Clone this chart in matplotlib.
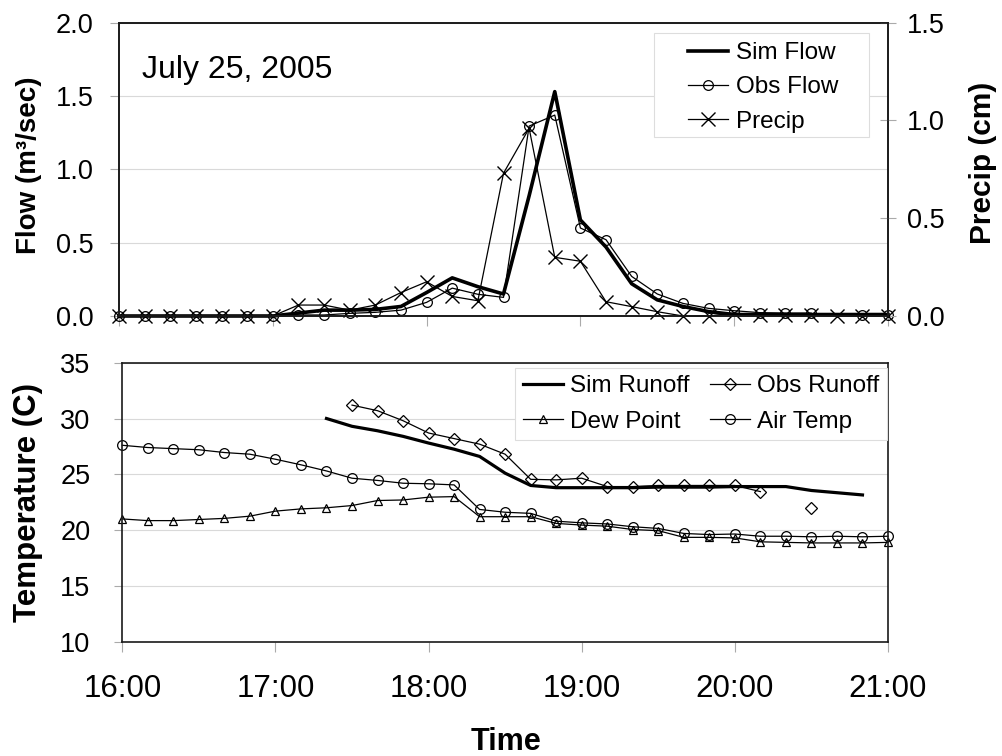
import matplotlib.pyplot as plt
import matplotlib.ticker as mticker
from matplotlib.patches import Rectangle
import numpy as np

plt.rcParams["font.family"] = ["Liberation Sans", "DejaVu Sans"]

# 10-minute readings, July 25, 2005
times = ["16:00", "16:10", "16:20", "16:30", "16:40", "16:50",
         "17:00", "17:10", "17:20", "17:30", "17:40", "17:50",
         "18:00", "18:10", "18:20", "18:30", "18:40", "18:50",
         "19:00", "19:10", "19:20", "19:30", "19:40", "19:50",
         "20:00", "20:10", "20:20", "20:30", "20:40", "20:50", "21:00"]
hour_ticks = ["16:00", "17:00", "18:00", "19:00", "20:00", "21:00"]

# top panel: flow (m3/sec) and precip (cm)
sim_flow = [0, 0, 0, 0, 0, 0, 0, 0.02, 0.04, 0.04, 0.045, 0.065, 0.16, 0.26, 0.2, 0.15,
            0.82, 1.53, 0.655, 0.47, 0.22, 0.11, 0.065, 0.03, 0.01, 0.01, 0.01, 0.01, 0.01, 0.01, 0.01]
obs_flow = [0, 0, 0, 0, 0, 0, 0, 0.007, 0.007, 0.018, 0.025, 0.04, 0.093, 0.19, 0.148, 0.127,
            1.295, 1.37, 0.6, 0.52, 0.27, 0.15, 0.086, 0.052, 0.036, 0.023, 0.02, 0.02, None, 0.01, 0.01]
precip = [0, 0, 0, 0, 0, 0, 0, 0.056, 0.056, 0.03, 0.056, 0.12, 0.175, 0.1, 0.078, 0.73,
          0.96, 0.30, 0.28, 0.073, 0.048, 0.022, 0, 0, 0.015, 0.005, 0.005, 0.005, 0, 0, 0]

# bottom panel: temperatures (C)
sim_runoff = [None] * 8 + [30.0, 29.3, 28.9, 28.4, 27.8, 27.25, 26.6, 25.1, 24.0, 23.8, 23.8,
                           23.8, 23.8, 23.85, 23.85, 23.85, 23.9, 23.9, 23.9, 23.55, 23.35, 23.15, None]
obs_runoff = [None] * 9 + [31.2, 30.7, 29.8, 28.7, 28.2, 27.7, 26.8, 24.55, 24.5, 24.65,
                           23.9, 23.9, 24.0, 24.0, 24.0, 24.0, 23.45, None, 22.0, None, None, None]
dew_point = [21.0, 20.85, 20.85, 20.95, 21.05, 21.25, 21.7, 21.9, 22.0, 22.2, 22.65, 22.7,
             22.95, 23.0, 21.2, 21.2, 21.2, 20.6, 20.45, 20.35, 20.05, 19.95, 19.35, 19.35,
             19.3, 18.95, 18.9, 18.85, 18.85, 18.85, 18.9]
air_temp = [27.6, 27.4, 27.3, 27.2, 26.95, 26.8, 26.35, 25.85, 25.3, 24.65, 24.45, 24.2,
            24.15, 24.05, 21.85, 21.6, 21.5, 20.8, 20.65, 20.55, 20.3, 20.15, 19.7, 19.6,
            19.65, 19.45, 19.45, 19.4, 19.45, 19.4, 19.45]


def to_hours(t):
    return int(t[:2]) + int(t[3:]) / 60


hours = np.array([to_hours(t) for t in times])
tick_hours = [to_hours(t) for t in hour_ticks]


def arr(v):
    return np.array(v, dtype=float)


W, H = 1002, 756
fig = plt.figure(figsize=(W / 100, H / 100), dpi=100)

spine_col = "#1a1a1a"
tick_col = "#aaaaaa"
grid_col = "#d9d9d9"
legend_edge = "#dddddd"


def style(ax):
    for s in ax.spines.values():
        s.set_color(spine_col)
        s.set_linewidth(1.2)
    ax.grid(axis="y", color=grid_col, linewidth=0.8)
    ax.set_axisbelow(True)


# ---- top panel ----
ax1 = fig.add_axes([119 / W, 1 - 316 / H, (888 - 119) / W, (316 - 22.7) / H])
style(ax1)
l1, = ax1.plot(hours, arr(sim_flow), color="black", lw=2.6, label="Sim Flow", clip_on=False)
l2, = ax1.plot(hours, arr(obs_flow), color="black", lw=0.9, marker="o", ms=7,
               mfc="none", mec="black", mew=0.9, label="Obs Flow", clip_on=False)
ax1.set_xlim(16, 21)
ax1.set_ylim(0, 2.0)
ax1.set_xticks(tick_hours)
ax1.set_xticklabels([])
ax1.set_yticks(np.arange(0, 2.01, 0.5))
ax1.yaxis.set_major_formatter(mticker.FormatStrFormatter("%.1f"))
ax1.tick_params(axis="y", direction="out", length=6.5, color=tick_col, width=0.8,
                labelsize=19.5, pad=12)
ax1.tick_params(axis="x", direction="out", length=7, color=tick_col, width=0.8)

ax1b = ax1.twinx()
l3, = ax1b.plot(hours, arr(precip), color="black", lw=0.9, marker="x", ms=10,
                mew=1.0, label="Precip", clip_on=False)
ax1b.set_ylim(0, 1.5)
ax1b.set_yticks(np.arange(0, 1.51, 0.5))
ax1b.yaxis.set_major_formatter(mticker.FormatStrFormatter("%.1f"))
ax1b.tick_params(axis="y", direction="inout", length=12, color=tick_col, width=0.8,
                 labelsize=19.5, pad=7.5)
for s in ax1b.spines.values():
    s.set_color(spine_col)
    s.set_linewidth(1.2)

ax1.text((141.7 - 119) / (888 - 119), (316 - 78.3) / (316 - 22.7), "July 25, 2005",
         transform=ax1.transAxes, fontsize=23, va="baseline", ha="left")

# legend box is wider than its content, so the frame is drawn separately
ax1b.add_patch(Rectangle((654 / W, 1 - 137 / H), (869 - 654) / W, (137 - 33) / H,
                         transform=fig.transFigure, facecolor="white",
                         edgecolor=legend_edge, linewidth=0.8, zorder=4.5, clip_on=False))
leg1 = ax1b.legend(handles=[l1, l2, l3], loc="upper left",
                   bbox_to_anchor=(681 / W, 1 - 35 / H), bbox_transform=fig.transFigure,
                   borderaxespad=0, fontsize=17.5, handlelength=1.65, handletextpad=0.3,
                   labelspacing=0.5, borderpad=0.3, frameon=False)

fig.text(42 / W, 1 - 165 / H, "Flow (m³/sec)", rotation=90, ha="right", va="center",
         fontsize=20, fontweight="bold")
fig.text(969 / W, 1 - 163 / H, "Precip (cm)", rotation=90, ha="left", va="center",
         fontsize=21.5, fontweight="bold")

# ---- bottom panel ----
ax2 = fig.add_axes([122.3 / W, 1 - 641.7 / H, (888 - 122.3) / W, (641.7 - 362.7) / H])
style(ax2)
m1, = ax2.plot(hours, arr(sim_runoff), color="black", lw=2.3, label="Sim Runoff")
m2, = ax2.plot(hours, arr(obs_runoff), color="black", lw=0.9, marker="D", ms=6.3,
               mfc="none", mec="black", mew=0.9, label="Obs Runoff")
m3, = ax2.plot(hours, arr(dew_point), color="black", lw=0.9, marker="^", ms=5.5,
               mfc="none", mec="black", mew=0.9, label="Dew Point", clip_on=False)
m4, = ax2.plot(hours, arr(air_temp), color="black", lw=0.9, marker="o", ms=7,
               mfc="none", mec="black", mew=0.9, label="Air Temp", clip_on=False)
ax2.set_xlim(16, 21)
ax2.set_ylim(10, 35)
ax2.set_yticks(np.arange(10, 36, 5))
ax2.set_xticks(tick_hours)
ax2.set_xticklabels(hour_ticks)
ax2.tick_params(axis="y", direction="out", length=6, color=tick_col, width=0.8,
                labelsize=19.5, pad=17)
ax2.tick_params(axis="x", direction="out", length=7.2, color=tick_col, width=0.8,
                labelsize=22.5, pad=16)

# column-first order gives rows: Sim Runoff | Obs Runoff, Dew Point | Air Temp
leg2 = ax2.legend(handles=[m1, m3, m2, m4], ncol=2, loc="upper right",
                  bbox_to_anchor=(887 / W, 1 - 368 / H), bbox_transform=fig.transFigure,
                  borderaxespad=0, fontsize=17.5, handlelength=1.65, handletextpad=0.3,
                  labelspacing=0.55, columnspacing=0.85, borderpad=0.3,
                  fancybox=False, framealpha=1)
leg2.get_frame().set_edgecolor(legend_edge)
leg2.get_frame().set_linewidth(0.8)

fig.text(43 / W, 1 - 503 / H, "Temperature (C)", rotation=90, ha="right", va="center",
         fontsize=22.5, fontweight="bold")
fig.text(506 / W, 1 - 750 / H, "Time", ha="center", va="baseline",
         fontsize=22, fontweight="bold")

plt.savefig("out.png", dpi=100)
